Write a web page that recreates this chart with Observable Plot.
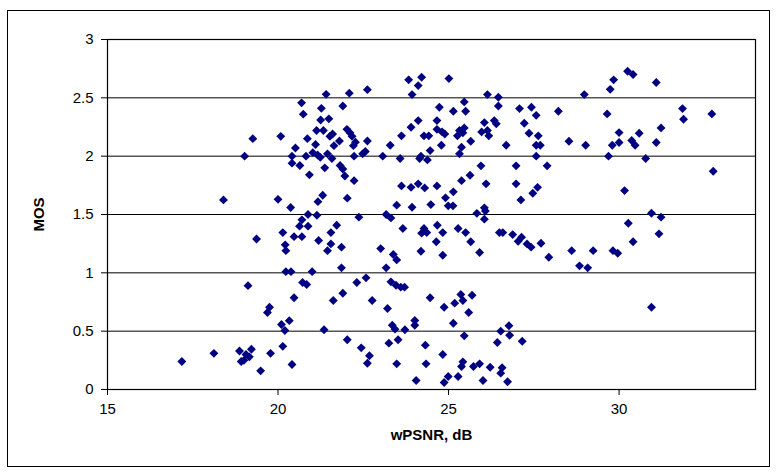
<!DOCTYPE html>
<html>
<head>
<meta charset="utf-8">
<script src="https://cdn.jsdelivr.net/npm/d3@7"></script>
<script src="https://cdn.jsdelivr.net/npm/@observablehq/plot@0.6"></script>
<style>
  html, body { margin: 0; padding: 0; background: #fff; }
  #wrap { position: relative; width: 776px; height: 472px; }
  #border { position: absolute; left: 7px; top: 10px; width: 761px; height: 455px; border: 1px solid #000; pointer-events: none; }
  #chart { position: absolute; left: 0; top: 0; }
  #chart svg { font-family: "Liberation Sans", Arial, sans-serif; }
  g[aria-label="x-axis label"] text, g[aria-label="y-axis label"] text { font-weight: bold; }
</style>
</head>
<body>
<div id="wrap"><div id="chart"></div><div id="border"></div></div>
<script>
const xTicks = [15, 20, 25, 30];
const yTicks = [0, 0.5, 1, 1.5, 2, 2.5, 3];
const xTitle = "wPSNR, dB";
const yTitle = "MOS";

const wpsnr = [
  17.18, 18.12, 18.40, 18.87, 18.92, 19.00, 19.06, 19.16, 19.22, 19.02, 19.12, 19.26, 19.37, 19.49, 19.69, 19.75, 19.78,
  20.00, 20.08, 20.10, 20.14, 20.14, 20.20, 20.21, 20.23, 20.23, 20.33, 20.38, 20.37, 20.41, 20.41, 20.41, 20.47, 20.47,
  20.51, 20.63, 20.64, 20.69, 20.70, 20.70, 20.72, 20.74, 20.82, 20.84, 20.86, 20.88, 20.88, 20.92,
  21.02, 21.10, 21.13, 21.16, 21.24, 21.25, 21.27, 21.33, 21.41, 21.45, 21.49, 21.52, 21.58, 21.60, 21.64, 21.80, 21.90,
  22.02, 22.09, 22.11, 22.17, 22.21, 22.23, 22.27, 22.48, 22.56, 22.62, 22.62, 21.37, 21.82, 21.90, 21.96, 22.23, 21.17,
  21.31, 22.03, 21.14, 23.07, 23.29, 23.58, 23.62, 23.90, 24.11,
  21.00, 21.19, 21.35, 21.72, 21.55, 21.55, 21.45, 21.86, 21.86, 21.90, 21.62, 22.03, 22.31, 22.58, 22.37, 22.44, 22.68,
  22.62, 22.76, 23.01, 23.17, 23.17, 23.31, 23.21, 23.25, 23.31, 23.35, 23.38, 23.43, 23.46, 23.48, 23.48, 23.48, 23.52,
  23.60, 23.66, 23.71, 23.72,
  23.83, 24.21, 24.11, 23.93, 25.01, 24.28, 24.42, 24.46, 24.73, 24.66, 24.66, 24.81, 24.89, 24.79, 25.14, 25.46, 25.50,
  25.26, 25.46, 25.32, 25.42, 25.38, 25.32, 25.65, 25.95, 26.05, 25.97, 26.14, 26.18, 26.14, 26.46, 26.46, 26.34, 26.40,
  26.69, 27.08, 27.43, 27.57, 27.22, 27.36, 27.63, 27.57, 27.69, 27.57, 26.98, 26.10, 25.63, 25.38, 25.14, 24.91, 26.98,
  27.61, 27.47, 27.12, 23.62, 23.90, 24.11, 24.30, 24.66, 23.93, 24.48, 24.99, 25.13, 24.19, 24.15, 24.38, 26.05, 26.08, 25.83,
  24.28, 24.21, 24.36, 24.67, 24.83, 24.64, 24.19, 24.83, 25.28, 25.50, 25.65, 25.91, 26.05, 26.49, 26.59, 26.88, 27.14,
  27.04, 27.30, 27.42, 27.71, 24.46, 24.87, 25.18, 25.36, 25.42, 25.69, 25.59, 24.01, 24.01, 24.32, 24.34, 24.83, 25.14,
  25.46, 24.05, 24.87, 24.99, 25.28, 25.38, 25.42, 25.73, 25.91, 26.22, 26.01, 26.57, 26.53, 26.73, 26.43, 26.53, 26.77,
  26.79, 27.16,
  30.25, 30.41, 29.84, 29.74, 31.09, 28.98, 28.22, 29.65, 31.86, 31.89, 32.72, 27.89, 28.53, 29.02, 30.00, 30.59, 31.23,
  29.80, 30.00, 30.37, 30.47, 31.09, 29.69, 30.78, 32.76, 30.16, 30.95, 31.23, 30.27, 31.17, 30.41, 27.94, 28.61, 28.84,
  29.08, 29.24, 29.82, 29.96, 30.95
];
const mos = [
  0.24, 0.31, 1.625, 0.33, 0.24, 0.25, 0.30, 0.28, 0.345, 2.00, 0.89, 2.15, 1.29, 0.16, 0.66, 0.705, 0.31,
  1.63, 2.17, 0.557, 1.345, 0.37, 0.506, 1.24, 1.19, 1.01, 0.59, 1.01, 1.56, 2.00, 1.94, 0.214, 1.31, 0.786,
  2.07, 1.40, 1.92, 2.457, 1.454, 1.31, 0.917, 2.36, 2.00, 0.90, 2.15, 1.50, 1.40, 1.84,
  2.03, 2.10, 2.22, 2.01, 1.99, 2.31, 2.41, 2.22, 2.53, 2.02, 2.32, 2.17, 1.98, 2.19, 2.09, 2.13, 2.43,
  2.23, 2.54, 2.20, 2.17, 2.09, 2.00, 2.12, 2.02, 2.04, 2.13, 2.57, 1.90, 1.92, 1.89, 1.83, 1.79, 1.61,
  1.665, 1.64, 1.494, 2.00, 2.094, 1.98, 2.174, 2.248, 2.305,
  1.01, 1.277, 0.512, 1.408, 1.345, 1.248, 1.19, 1.22, 1.043, 0.825, 0.763, 0.426, 0.917, 0.957, 1.477, 0.357, 0.289,
  0.225, 0.763, 1.208, 1.043, 1.50, 1.471, 0.694, 0.397, 0.923, 0.551, 1.157, 0.517, 0.894, 1.111, 0.22, 1.58, 0.426,
  0.877, 1.38, 0.877, 0.512,
  2.654, 2.676, 2.605, 2.528, 2.665, 2.174, 2.174, 2.048, 2.419, 2.305, 2.23, 2.208, 2.19, 2.094, 2.385, 2.465, 2.385,
  2.174, 2.242, 2.22, 2.20, 2.076, 2.02, 2.128, 1.917, 2.288, 2.208, 2.22, 2.174, 2.528, 2.505, 2.43, 2.305, 2.277,
  2.094, 2.408, 2.419, 2.35, 2.282, 2.196, 2.174, 2.094, 2.094, 2.0, 1.917, 1.763, 1.836, 1.79, 1.694, 1.643, 1.763,
  1.733, 1.682, 1.625, 1.745, 1.733, 1.763, 1.728, 1.745, 1.562, 1.585, 1.574, 1.574, 2.0, 1.98, 1.968, 1.557, 1.53, 1.51,
  1.38, 1.34, 1.345, 1.408, 1.345, 1.266, 1.185, 1.151, 1.38, 1.345, 1.266, 1.174, 1.46, 1.345, 1.345, 1.328, 1.305,
  1.27, 1.248, 1.22, 1.254, 0.786, 0.705, 0.74, 0.814, 0.763, 0.808, 0.66, 0.591, 0.551, 0.38, 0.22, 0.30, 0.568,
  0.46, 0.077, 0.06, 0.111, 0.111, 0.197, 0.237, 0.197, 0.22, 0.191, 0.077, 0.186, 0.14, 0.066, 0.403, 0.50, 0.546,
  0.465, 0.414,
  2.728, 2.70, 2.654, 2.573, 2.631, 2.528, 2.385, 2.362, 2.408, 2.316, 2.362, 1.917, 2.128, 2.094, 2.202, 2.196, 2.242,
  2.094, 2.117, 2.134, 2.094, 2.117, 2.0, 1.98, 1.871, 1.705, 1.511, 1.477, 1.425, 1.334, 1.266, 1.134, 1.19, 1.06,
  1.043, 1.19, 1.19, 1.168, 0.705
];

const data = wpsnr.map((x, i) => ({x, y: mos[i]}));

const chart = Plot.plot({
  width: 776,
  height: 472,
  marginLeft: 107,
  marginRight: 21,
  marginTop: 39,
  marginBottom: 83,
  style: { fontSize: "15px", fontFamily: "Liberation Sans, Arial, sans-serif", color: "#000", background: "transparent" },
  x: { domain: [15, 34] },
  y: { domain: [0, 3] },
  marks: [
    Plot.gridY(yTicks, { stroke: "#000", strokeOpacity: 1, strokeWidth: 1 }),
    Plot.frame({ stroke: "#000", strokeWidth: 1.2 }),
    Plot.axisX(xTicks, {
      tickSize: 6, tickPadding: 8, tickFormat: d => String(d),
      label: xTitle, labelAnchor: "center", labelArrow: "none", labelOffset: 50,
      stroke: "#000"
    }),
    Plot.axisY(yTicks, {
      tickSize: 6, tickPadding: 8, tickFormat: d => String(d),
      label: yTitle, labelAnchor: "center", labelArrow: "none", labelOffset: 74,
      stroke: "#000"
    }),
    Plot.dot(data, { x: "x", y: "y", symbol: "diamond2", r: 4, fill: "#000080", stroke: "none" })
  ]
});
document.getElementById("chart").appendChild(chart);
</script>
</body>
</html>
